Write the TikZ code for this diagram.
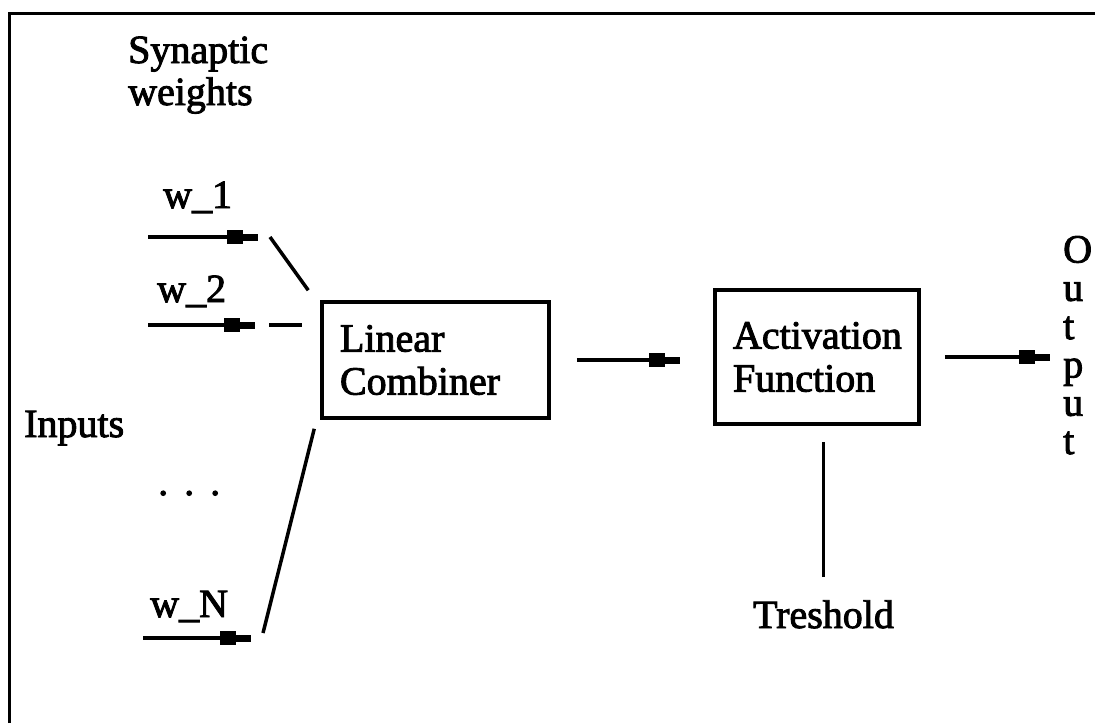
\documentclass[tikz,border=0pt]{standalone}
\usepackage{fontspec}
\setmainfont{Liberation Serif}
\usetikzlibrary{arrows.meta}
% fill and outline glyphs so the lettering reads a little heavier
\newcommand\inkytext{\special{pdf:literal direct 2 Tr 0.9 w}}

\begin{document}
\begin{tikzpicture}[x=1pt,y=-1pt,
  lbl/.style={inner sep=0pt, font=\fontsize{40}{42}\selectfont\inkytext, anchor=base west},
  wire/.style={line width=3.5pt},
  feed/.style={wire, -{Rectangle[length=16pt,width=14pt,line width=0pt] Rectangle[length=15pt,width=7pt,line width=0pt]}},
  block/.style={draw, line width=3.5pt, inner xsep=18pt, inner ysep=0pt, align=left, font=\fontsize{40}{43}\selectfont\inkytext},
]
\useasboundingbox (0,0) rectangle (1095,723);

% frame: top and left rules only
\draw[wire] (9.5,723) -- (9.5,13.5) -- (1095,13.5);

% labels (multi-line labels are anchored at the baseline of their last line)
\node[lbl, align=left] (syn) at (128,105) {Synaptic\\weights};
\node[lbl] (inp) at (24,437) {Inputs};
\node[lbl] (w1) at (163,208) {w\_1};
\node[lbl] (w2) at (157,302) {w\_2};
\node[lbl] (wN) at (150,617) {w\_N};
\node[lbl] (dots) at (158,495) {.\hspace{16pt}.\hspace{16pt}.};

% processing blocks
\node[block, text width=191pt, minimum height=116pt] (lc) at (435.5,360) {Linear\\Combiner};
\node[block, text width=168pt, minimum height=134pt] (af) at (817,357) {Activation\\Function};
\node[lbl, anchor=base] (thr) at (823.5,628) {Treshold};
\node[lbl, align=left, font=\fontsize{40}{38.3}\selectfont\inkytext] (out) at (1063,454) {O\\u\\t\\p\\u\\t};

% free ends of the input arrows
\coordinate (s1) at (148,237); \coordinate (e1) at (258,237);
\coordinate (s2) at (148,325); \coordinate (e2) at (255,325);
\coordinate (sN) at (143,638); \coordinate (eN) at (251,638);
\coordinate (oe) at (1050,359);

% inputs
\draw[feed] (s1) -- (e1);
\draw[feed] (s2) -- (e2);
\draw[feed] (sN) -- (eN);

% weighted links into the combiner
\draw[wire] ([xshift=12pt]e1) -- ([shift={(-12,-10)}]lc.north west);
\draw[wire, shorten >=18pt] ([xshift=14pt]e2) -- (lc.west |- e2);
\draw[wire] ([shift={(12,-5)}]eN) -- ([shift={(-6,9)}]lc.south west);

% signal flow
\draw[feed, shorten <=26pt, shorten >=33pt] (lc.east) -- (lc.east -| af.west);
\draw[feed, shorten <=24pt] (af.east) -- (af.east -| oe);
\draw[wire, shorten <=23pt, shorten >=16pt] (thr.north) -- (thr.north |- af.south);
\end{tikzpicture}
\end{document}
